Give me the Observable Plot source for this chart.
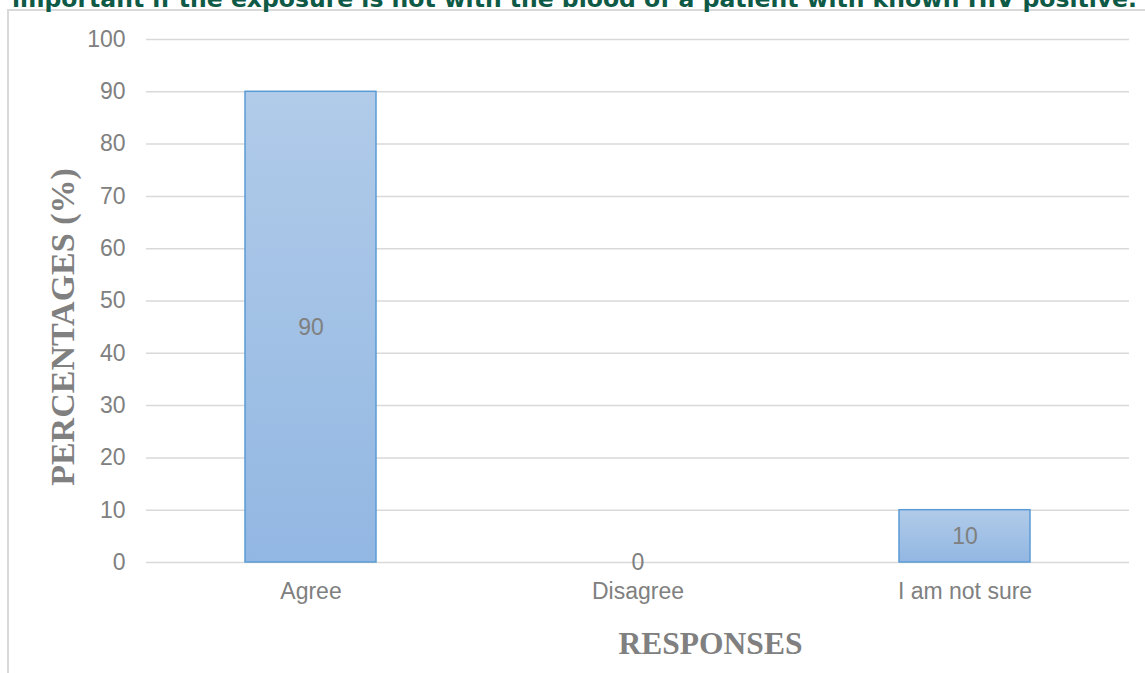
<!DOCTYPE html>
<html>
<head>
<meta charset="utf-8">
<script src="https://cdn.jsdelivr.net/npm/d3@7"></script>
<script src="https://cdn.jsdelivr.net/npm/@observablehq/plot@0.6"></script>
<style>
  html, body { margin: 0; padding: 0; background: #fff; overflow: hidden; }
  #wrap { position: relative; width: 1145px; height: 673px; overflow: hidden; }
  #title {
    position: absolute; left: 12px; top: -13px; white-space: nowrap;
    font-family: "DejaVu Sans", sans-serif; font-weight: bold; font-size: 23.5px;
    line-height: 24px; color: #0e5a46;
  }
  #frame {
    position: absolute; left: 7px; top: 9px; width: 1200px; height: 700px;
    border: 2px solid #d9d9d9; box-sizing: border-box;
  }
  #chart { position: absolute; left: 0; top: 0; }
</style>
</head>
<body>
<div id="wrap">
  <div id="frame"></div>
  <div id="title">important if the exposure is not with the blood of a patient with known HIV positive.</div>
  <div id="chart"></div>
</div>
<script>
const categories = ["Agree", "Disagree", "I am not sure"];
const values = [90, 0, 10];
const yTicks = [0, 10, 20, 30, 40, 50, 60, 70, 80, 90, 100];
const yTitle = "PERCENTAGES (%)";
const xTitle = "RESPONSES";

const data = categories.map((c, i) => ({category: c, value: values[i]}));

const gradDefs = () => {
  const svg = d3.create("svg:g");
  const defs = svg.append("defs");
  const g = defs.append("linearGradient").attr("id", "barGrad")
    .attr("x1", 0).attr("y1", 0).attr("x2", 0).attr("y2", 1);
  g.append("stop").attr("offset", "0%").attr("stop-color", "#b1cbe9");
  g.append("stop").attr("offset", "100%").attr("stop-color", "#92b7e2");
  return svg.node();
};

const gray = "#808080";
const serif = "'Liberation Serif', 'Times New Roman', serif";

const chart = Plot.plot({
  width: 1145,
  height: 673,
  marginLeft: 146,
  marginRight: 16,
  marginTop: 39,
  marginBottom: 111,
  style: { fontFamily: "'Liberation Sans', Arial, sans-serif", fontSize: "23px", color: gray, background: "transparent" },
  x: { domain: categories, paddingInner: 0.6, paddingOuter: 0.3, label: null },
  y: { domain: [0, 100], label: null },
  marks: [
    gradDefs,
    Plot.gridY(yTicks, { stroke: "#d9d9d9", strokeOpacity: 1, strokeWidth: 1.5 }),
    Plot.axisY(yTicks, { tickSize: 0, tickPadding: 21, fontSize: 23, fill: gray, label: null }),
    Plot.axisX({ tickSize: 0, tickPadding: 20, fontSize: 23, fill: gray, label: null }),
    Plot.barY(data.filter(d => d.value > 0), { x: "category", y: "value", fill: "url(#barGrad)", stroke: "#5b9bd5", strokeWidth: 1.5 }),
    Plot.text(data, { x: "category", y: d => d.value / 2, text: d => String(d.value), fill: gray, fontSize: 23 }),
    Plot.text([yTitle], { frameAnchor: "left", textAnchor: "middle", lineAnchor: "middle", rotate: -90, dx: 63 - 146, dy: 26, fontFamily: serif, fontWeight: "bold", fontSize: 34, fill: gray }),
    Plot.text([xTitle], { frameAnchor: "bottom", textAnchor: "middle", lineAnchor: "middle", dx: 72.5, dy: 81, fontFamily: serif, fontWeight: "bold", fontSize: 31.5, fill: gray })
  ]
});
document.getElementById("chart").appendChild(chart);
</script>
</body>
</html>
